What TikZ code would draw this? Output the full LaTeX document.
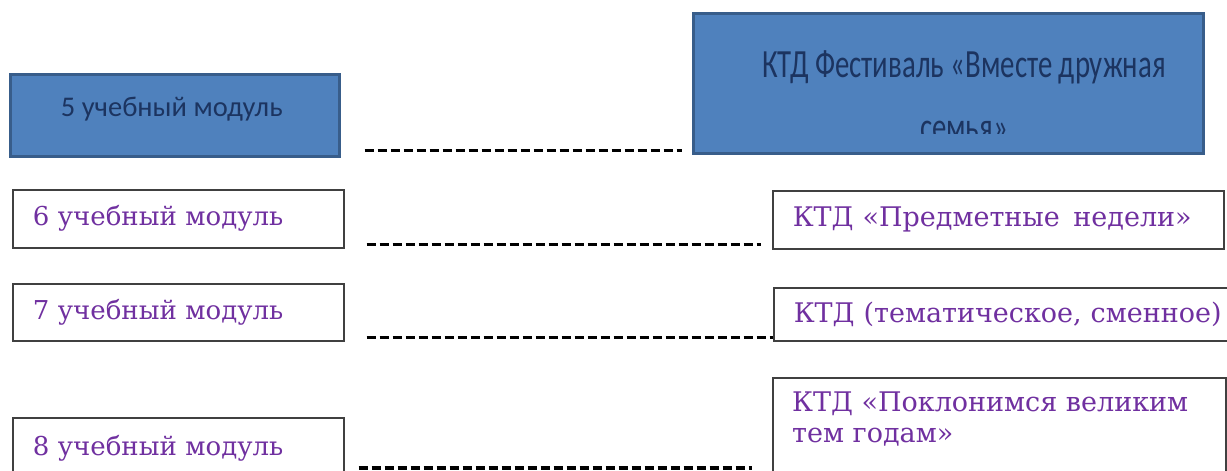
\documentclass[tikz,border=0pt]{standalone}
\usepackage{fontspec}
\usetikzlibrary{calc}
\setmainfont{DejaVu Serif}
\newfontfamily\modfont{DejaVu Serif}
\newfontfamily\blufont{Carlito}
\definecolor{boxblue}{RGB}{79,129,189}
\definecolor{boxedge}{RGB}{56,93,138}
\definecolor{bluetext}{RGB}{28,52,96}
\definecolor{modviolet}{RGB}{112,48,160}
\definecolor{edgegray}{RGB}{64,64,64}

\begin{document}
\begin{tikzpicture}[x=1pt,y=-1pt]
\tikzset{bluebox/.style={draw=boxedge,line width=2.5pt,fill=boxblue,inner sep=0pt,anchor=north west},
  bluelbl/.style={text=bluetext,inner sep=0pt,font=\blufont\fontsize{28.5}{34}\selectfont},
  festlbl/.style={text=bluetext,inner sep=0pt,font=\blufont\fontsize{40}{48}\selectfont},
  modbox/.style={draw=edgegray,line width=1.5pt,fill=white,anchor=north west,inner xsep=20pt,inner ysep=0pt,align=left,text=modviolet,font=\modfont\fontsize{26}{30}\selectfont},
  ktdbox/.style={modbox,font=\modfont\fontsize{27}{31}\selectfont},
  ktdlbl/.style={inner sep=0pt,align=left,text=modviolet,font=\modfont\fontsize{27}{31}\selectfont},
  link/.style={line width=3.5pt,dash pattern=on 9pt off 4pt}}
\clip (0,0) rectangle (1227,471);
\node [bluebox,minimum width=329,minimum height=82] (m5) at (9,73) {};
\node [bluelbl] (m5t) at ($(m5.center)+(-3,-6)$) {5 учебный модуль};
\node [bluebox,minimum width=510,minimum height=140] (f5) at (692,12) {};
\node [festlbl,anchor=base] (f5a) at (964,77) {\scalebox{0.72}[1]{КТД Фестиваль «Вместе дружная}};
\begin{scope}
\clip (692,12) rectangle (1202,133);
\node [festlbl,anchor=base] (f5b) at (964,140) {\scalebox{0.72}[1]{семья»}};
\end{scope}
\node [modbox,minimum height=58,text width=291] (m6) at (12,189) {6 учебный модуль};
\node [modbox,minimum height=57,text width=291] (m7) at (12,283) {7 учебный модуль};
\node [modbox,minimum height=62,text width=291] (m8) at (12,417) {8 учебный модуль};
\node [ktdbox,minimum height=58,text width=411] (r6) at (772,190) {КТД «Предметные\, недели»};
\node [ktdbox,minimum height=53,text width=418] (r7) at (773,287) {\mbox{КТД (тематическое, сменное)}};
\node [ktdbox,minimum height=110,text width=413] (r8) at (772,377) {};
\node [ktdlbl,anchor=north west] (r8t) at ($(r8.north west)+(20,15)$) {КТД «Поклонимся великим\\тем годам»};
\draw [link] ($(m5.south east)+(24,-7)$) -- ($(m5.south east -| f5.west)+(-10,-7)$);
\draw [link] ($(m6.south east)+(22,-4)$) -- ($(m6.south east -| r6.west)+(-11,-4)$);
\draw [link] ($(m7.south east)+(22,-4)$) -- ($(m7.south east -| r7.west)+(0,-4)$);
\draw [link] ($(m8.north east)+(14,51)$) -- ($(m8.north east -| r8.west)+(-20,51)$);
\end{tikzpicture}
\end{document}
